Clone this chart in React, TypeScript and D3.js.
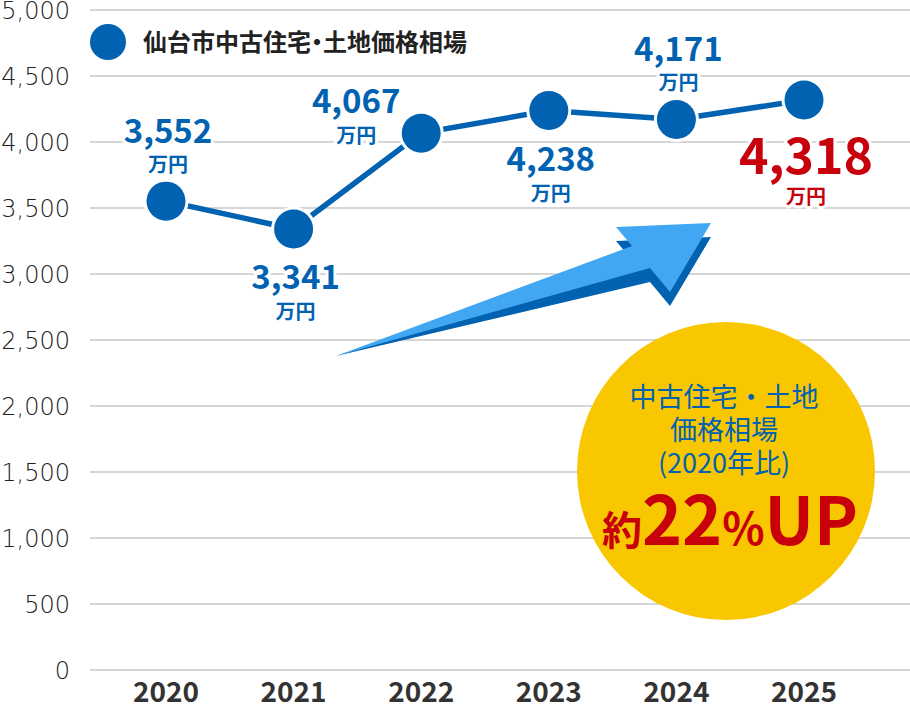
import * as d3 from 'd3';

const years = ['2020', '2021', '2022', '2023', '2024', '2025'];
const prices = [3552, 3341, 4067, 4238, 4171, 4318];
const labelSide = ['above', 'below', 'left', 'below', 'above', 'below'];
const yTicks = [0, 500, 1000, 1500, 2000, 2500, 3000, 3500, 4000, 4500, 5000];

const seriesName = '仙台市中古住宅・土地価格相場';
const unit = '万円';
const badgeLines = ['中古住宅・土地', '価格相場', '(2020年比)'];

const BLUE = '#0062b0';
const RED = '#c8000b';
const FONT = '"Noto Sans CJK JP", "Noto Sans", sans-serif';

export default function App() {
  const width = 910;
  const height = 706;
  const plotLeft = 90;

  const x = d3.scalePoint<string>().domain(years).range([166, 804]);
  const y = d3.scaleLinear().domain([0, 5000]).range([670, 10]);

  const pts = years.map((yr, i) => ({
    yr,
    v: prices[i],
    cx: x(yr) ?? 0,
    cy: y(prices[i]),
    side: labelSide[i],
    last: i === years.length - 1,
  }));

  const line = d3
    .line<(typeof pts)[number]>()
    .x((d) => d.cx)
    .y((d) => d.cy);

  const fmt = d3.format(',');

  // 3D arrow (decoration)
  const arrowTop: [number, number][] = [
    [336, 356],
    [650, 268],
    [670, 292],
    [711, 223],
    [616, 227],
    [632, 246],
  ];
  const depth = 14;
  const arrowSide = arrowTop.map(([px, py], i) =>
    i === 0 ? [px, py] : [px, py + depth]
  );
  const poly = (p: number[][]) => p.map((q) => q.join(',')).join(' ');

  const badge = { cx: 726, cy: 471, r: 149 };
  const palt = { fontFeatureSettings: '"palt"' };

  return (
    <svg
      width={width}
      height={height}
      style={{ position: 'absolute', left: 0, top: 0, background: '#fff' }}
      fontFamily={FONT}
    >
      {/* grid + y labels */}
      {yTicks.map((t) => (
        <g key={t}>
          <line
            x1={plotLeft}
            x2={width}
            y1={y(t)}
            y2={y(t)}
            stroke='#c8c8c8'
            strokeWidth={1.7}
          />
          <text
            x={70}
            y={y(t) + 9}
            textAnchor='end'
            fontSize={24}
            fontWeight={300}
            fontFamily='"DejaVu Sans", sans-serif'
            fill='#222'
          >
            {fmt(t)}
          </text>
        </g>
      ))}

      {/* x labels */}
      {years.map((yr) => (
        <text
          key={yr}
          x={x(yr)}
          y={702}
          textAnchor='middle'
          fontSize={28}
          fontWeight={700}
          fill='#333'
        >
          {yr}
        </text>
      ))}

      {/* legend */}
      <circle cx={108} cy={42} r={18} fill={BLUE} />
      <text
        x={143}
        y={51}
        fontSize={24}
        fontWeight={700}
        fill='#222'
        style={palt}
      >
        {seriesName}
      </text>

      {/* arrow */}
      <polygon points={poly(arrowSide)} fill={BLUE} />
      <polygon points={poly(arrowTop)} fill='#42a7f2' />

      {/* badge */}
      <circle cx={badge.cx} cy={badge.cy} r={badge.r} fill='#f9c700' />
      {badgeLines.map((s, i) => (
        <text
          key={s}
          x={badge.cx - 2}
          y={badge.cy - 64 + i * 33}
          textAnchor='middle'
          fontSize={27}
          fill={BLUE}
        >
          {s}
        </text>
      ))}
      <text
        x={badge.cx + 4}
        y={badge.cy + 74}
        textAnchor='middle'
        fontWeight={700}
        fill={RED}
      >
        <tspan fontSize={40}>約</tspan>
        <tspan fontSize={68}>22</tspan>
        <tspan fontSize={44}>%</tspan>
        <tspan fontSize={66}>UP</tspan>
      </text>

      {/* series line */}
      <path d={line(pts) ?? ''} fill='none' stroke={BLUE} strokeWidth={5.5} />
      {pts.map((p) => (
        <g key={p.yr}>
          <circle cx={p.cx} cy={p.cy} r={22.5} fill='#fff' />
          <circle cx={p.cx} cy={p.cy} r={19.5} fill={BLUE} />
        </g>
      ))}

      {/* value labels */}
      {pts.map((p) => {
        const color = p.last ? RED : BLUE;
        let dx = 2;
        let vy = -58;
        let uy = -29;
        if (p.side === 'below') {
          vy = p.last ? 74 : 60;
          uy = p.last ? 104 : 90;
        } else if (p.side === 'left') {
          dx = -65;
          vy = -20;
          uy = 10;
        }
        const halo = {
          stroke: '#fff',
          strokeWidth: 6,
          strokeLinejoin: 'round' as const,
          paintOrder: 'stroke',
        };
        return (
          <g key={'l' + p.yr} fill={color} fontWeight={700} textAnchor='middle'>
            <text
              x={p.cx + dx}
              y={p.cy + vy}
              fontSize={p.last ? 50 : 33}
              {...halo}
            >
              {fmt(p.v)}
            </text>
            <text x={p.cx + dx} y={p.cy + uy} fontSize={20} {...halo}>
              {unit}
            </text>
          </g>
        );
      })}
    </svg>
  );
}
